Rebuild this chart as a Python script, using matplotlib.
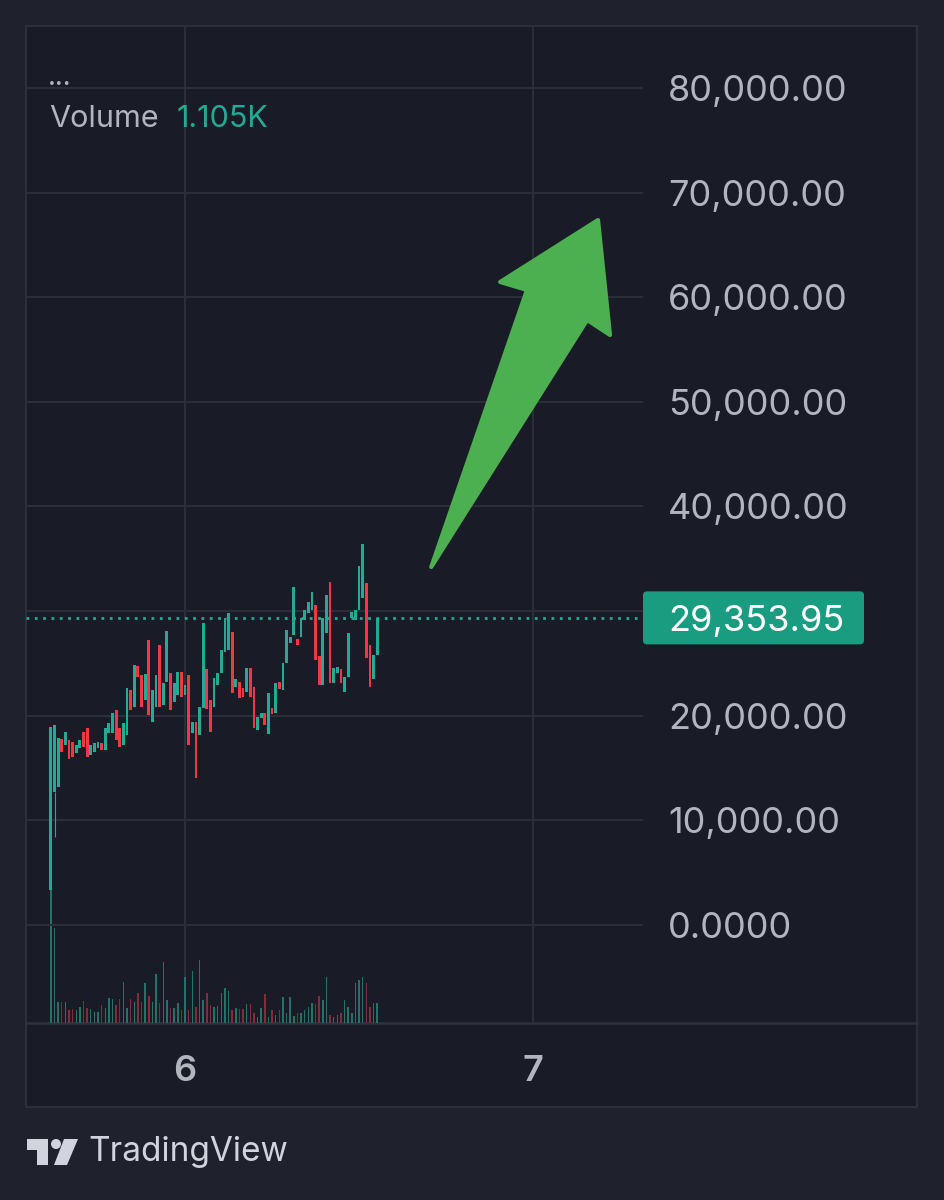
import numpy as np
import matplotlib.pyplot as plt
from matplotlib.patches import Rectangle, Polygon, FancyBboxPatch, Circle

###############################################################################
# Data: 15-minute candles (index 37 = start of day 6)
opens = [3345, 12711, 13189, 17776, 17203, 17680, 17489, 16438, 16916, 18445,
         18827, 16247, 16534, 16916, 17394, 16725, 18349, 18349, 20548, 18827,
         17203, 18158, 22459, 20834, 24753, 23893, 21503, 27237, 19401, 20834,
         26760, 21025, 23224, 24084, 21312, 21981, 24179, 21981, 23893, 18349,
         19401, 18158, 20739, 24466, 21503, 20834, 22937, 24084, 26091, 26282,
         28002, 22746, 23224, 22650, 22268, 24561, 22746, 18636, 19783, 20261,
         18254, 20739, 20261, 23224, 22459, 25039, 26951, 27715, 27333, 27524,
         29149, 29818, 30105, 30582, 25708, 22937, 27906, 32781, 23128, 24084,
         24466, 22268, 23701, 29340, 29149, 30105, 31251, 32685, 26760, 23510,
         25804]
closes = [18923, 19114, 17872, 16534, 18445, 15865, 16056, 17203, 17680, 17011,
          16056, 17203, 17394, 17489, 16725, 18827, 19305, 20261, 17680, 17011,
          19305, 22650, 20548, 24848, 23701, 20834, 23988, 20070, 22459, 23893,
          20834, 23128, 28098, 20548, 23128, 24179, 21790, 22937, 17203, 19401,
          14049, 20834, 28862, 20643, 18445, 23606, 24084, 26282, 29340, 29818,
          22172, 23510, 21694, 21790, 24561, 21790, 18827, 19879, 20261, 19114,
          22172, 20165, 23128, 22555, 25039, 28193, 27524, 32303, 26760, 29340,
          30105, 30869, 31825, 25326, 22937, 29340, 31538, 23128, 24561, 24657,
          23128, 23701, 27906, 29913, 30105, 34310, 36412, 25517, 22746, 25804,
          29353.95]
volumes = [7900, 5250, 1160, 1160, 1160, 720, 770, 720, 880, 1220,
           830, 770, 610, 610, 990, 830, 1380, 1330, 990, 1330,
           2270, 830, 1330, 1160, 1660, 1160, 2210, 1490, 1160, 2710,
           1105, 3370, 1270, 830, 830, 1105, 720, 2540, 720, 2870,
           880, 3480, 1270, 1660, 990, 880, 940, 1660, 1930, 1770,
           720, 830, 770, 770, 1050, 1050, 550, 330, 830, 1600,
           330, 720, 440, 720, 1440, 550, 1440, 390, 550, 550,
           720, 880, 1105, 1050, 1490, 1270, 2540, 440, 330, 440,
           550, 1270, 880, 550, 2210, 2380, 2540, 2210, 880, 1105,
           1105]
wick_idx = [1]
wick_low = [8410]

price_ticks = [0, 10000, 20000, 30000, 40000, 50000, 60000, 70000, 80000]
# the 30,000 label sits under the last-price tag
price_labels = ['0.0000', '10,000.00', '20,000.00', '', '40,000.00',
                '50,000.00', '60,000.00', '70,000.00', '80,000.00']
day_ticks = [37, 133]
day_labels = ['6', '7']
last_price = 29353.95
last_volume = '1.105K'

# Arrow annotation outline (candle index, price)
arrow_x = [104.9, 131.3, 123.9, 150.9, 154.2, 147.9]
arrow_y = [34214, 60687, 61451, 67377, 56386, 57820]

###############################################################################
BG = '#1f222c'
PANEL = '#191c26'
GRID = '#2a2e39'
TXT = '#b2b5be'
UP = '#22ab94'
DOWN = '#f23645'

plt.rcParams['font.family'] = ['Inter', 'DejaVu Sans']

W, H = 944, 1200
fig = plt.figure(figsize=(W / 100, H / 100), dpi=100, facecolor=BG)

def fx(px):
    return px / W

def fy(py):
    return 1 - py / H

# Panel frame
fig.patches.append(Rectangle((fx(26), fy(1107)), fx(917) - fx(26), fy(26) - fy(1107),
                             transform=fig.transFigure, facecolor=PANEL,
                             edgecolor='#2c303a', lw=1.5, zorder=-2))
fig.lines.append(plt.Line2D([fx(26), fx(917)], [fy(1023), fy(1023)],
                            transform=fig.transFigure, color='#2e323e', lw=1.8, zorder=-1))

rect = [fx(26), fy(1023), fx(643) - fx(26), fy(26) - fy(1023)]
axv = fig.add_axes(rect)
ax = fig.add_axes(rect, sharex=axv)

idx = np.arange(len(opens))
o = np.array(opens)
c = np.array(closes)
up = c >= o
cols = np.where(up, UP, DOWN)
vcols = np.where(up, '#217368', '#832c3a')

axv.set_facecolor('none')
axv.bar(idx, volumes, width=0.4, color=vcols, zorder=2)
axv.set_ylim(0, 55000)
axv.set_yticks([])
for s in axv.spines.values():
    s.set_visible(False)
axv.tick_params(axis='x', length=0, labelbottom=False)

ax.set_facecolor('none')
ax.set_xlim(-6.86, 163.3)
ax.set_ylim(-9366, 85917)

for t in price_ticks:
    ax.axhline(t, color=GRID, lw=1.5, zorder=0)
for t in day_ticks:
    axv.axvline(t, color=GRID, lw=1.5, zorder=0)

# candles
ax.bar(idx, np.abs(c - o), bottom=np.minimum(o, c), width=0.78, color=cols, zorder=3)
for i, lo in zip(wick_idx, wick_low):
    ax.vlines(i, lo, min(o[i], c[i]), color=cols[i], lw=0.8, zorder=3)

ax.axhline(last_price, color=UP, lw=2.0, ls=(0, (1, 2)), zorder=2)

ax.add_patch(Polygon(np.column_stack([arrow_x, arrow_y]), closed=True,
                     facecolor='#4caf50', edgecolor='#4caf50', lw=3,
                     joinstyle='round', zorder=5, clip_on=False))

for s in ax.spines.values():
    s.set_visible(False)
ax.yaxis.tick_right()
ax.set_yticks(price_ticks, price_labels)
ax.tick_params(axis='y', length=0, pad=18, labelsize=26, labelcolor=TXT)
for lab in ax.get_yticklabels():
    lab.set_horizontalalignment('left')
ax.set_xticks(day_ticks, day_labels)
ax.tick_params(axis='x', length=0, pad=23, labelsize=26, labelcolor=TXT)
for lab in ax.get_xticklabels():
    lab.set_fontweight('semibold')

# last price tag
yb = ax.transData.transform((0, last_price))[1]
fig.patches.append(FancyBboxPatch((643, yb - 26.5), 221, 53, transform=None,
                                  boxstyle='round,pad=0,rounding_size=4',
                                  facecolor='#1a9c81', edgecolor='none', zorder=4))
fig.text(fx(668), yb / H, '29,353.95', color='white', fontsize=26,
         ha='left', va='center_baseline', zorder=5)

# legend
fig.text(fx(48), fy(78), '...', color=TXT, fontsize=20, ha='left', va='center')
fig.text(fx(49), fy(119), 'Volume', color=TXT, fontsize=22, ha='left', va='center')
fig.text(fx(177), fy(119), last_volume, color=UP, fontsize=22, ha='left', va='center')

# TradingView logo
LOGO = '#d1d4dc'
def P(pts):
    return [(x, H - y) for x, y in pts]
fig.patches.append(Polygon(P([(27, 1139), (48, 1139), (48, 1165), (37, 1165),
                              (37, 1150), (27, 1150)]), closed=True, transform=None,
                           facecolor=LOGO, edgecolor='none'))
fig.patches.append(Circle((56, H - 1144), 5, transform=None, facecolor=LOGO, edgecolor='none'))
fig.patches.append(Polygon(P([(64, 1139), (78, 1139), (67, 1165), (54, 1165)]), closed=True,
                           transform=None, facecolor=LOGO, edgecolor='none'))
fig.text(fx(88), fy(1152), 'TradingView', color=LOGO, fontsize=24, ha='left', va='center')

fig.savefig('out.png', dpi=100, facecolor=BG)
